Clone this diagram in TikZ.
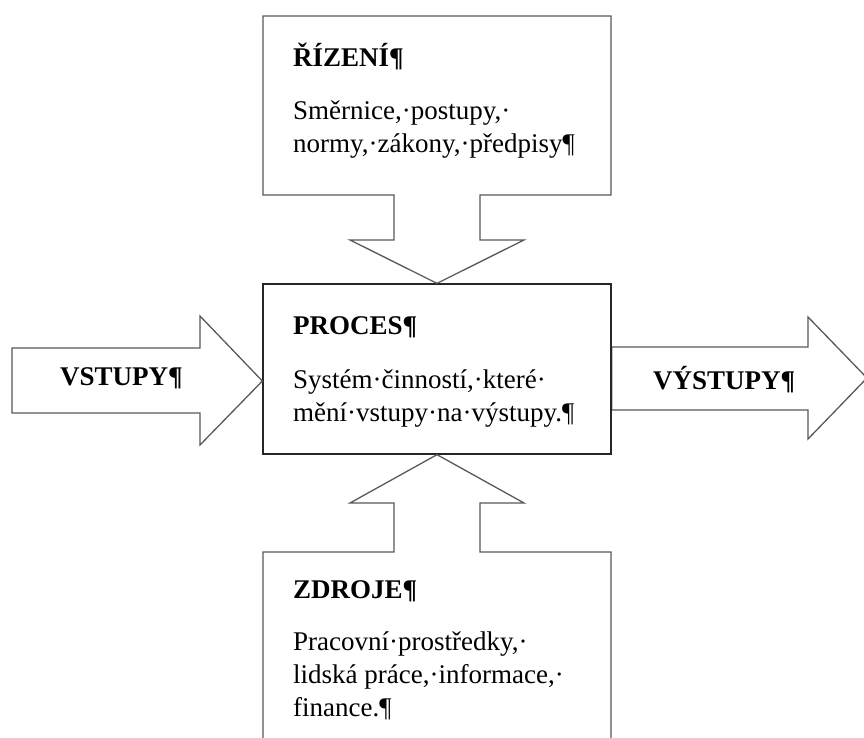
\documentclass[tikz,border=0pt]{standalone}
\usepackage{fontspec}
\setmainfont{Liberation Serif}
% stack of lines whose baseline is the baseline of the first line
\newcommand{\linestack}[1]{\vtop{\baselineskip=33pt\lineskiplimit=-20pt\halign{##\hfil\cr#1\crcr}}}
\begin{document}
\begin{tikzpicture}[x=1pt,y=-1pt,
  outline/.style={draw=black!65, line width=1.3pt, line join=miter, fill=white},
  headtext/.style={font=\bfseries\fontsize{27}{33}\selectfont, anchor=base west, inner sep=0pt},
  bodytext/.style={font=\fontsize{27}{33}\selectfont, anchor=base west, inner sep=0pt},
]
\useasboundingbox (0,0) rectangle (864,738);
\fill[white] (0,0) rectangle (864,738);
\clip (0,0) rectangle (864,738);

% central process box
\node[draw=black!85, line width=1.3pt, minimum width=348pt, minimum height=170pt, inner sep=0pt] (proc) at (437,369) {};

% control callout (box with arrow pointing down onto the process)
\draw[outline] (proc.north) -- (350,240) -- (394,240) -- (394,195) -- (263,195)
  -- (263,16) -- (611,16) -- (611,195) -- (480,195) -- (480,240) -- (524,240) -- cycle;

% resources callout (box with arrow pointing up onto the process)
\draw[outline] (proc.south) -- (524,503) -- (480,503) -- (480,552) -- (611,552)
  -- (611,750) -- (263,750) -- (263,552) -- (394,552) -- (394,503) -- (350,503) -- cycle;

% input block arrow
\draw[outline] (12,348) -- (200,348) -- (200,316) -- (proc.west |- 0,381)
  -- (200,445) -- (200,413) -- (12,413) -- cycle;

% output block arrow
\draw[outline] (proc.east |- 0,347) -- (808,347) -- (808,317) -- (867,378)
  -- (808,439) -- (808,410) -- (proc.east |- 0,410) -- cycle;
\draw[draw=black!85, line width=1.3pt] (proc.north east) -- (proc.south east);

% texts
\node[headtext] (rizh) at (293,66.7) {ŘÍZENÍ¶};
\node[bodytext] (rizb) at (293,120) {\linestack{Směrnice,·postupy,·\cr normy,·zákony,·předpisy¶}};

\node[headtext] (proch) at (293,334) {PROCES¶};
\node[bodytext] (procb) at (293,388) {\linestack{Systém·činností,·které·\cr mění·vstupy·na·výstupy.¶}};

\node[headtext] (zdrh) at (293,598) {ZDROJE¶};
\node[bodytext] (zdrb) at (293,650) {\linestack{Pracovní·prostředky,·\cr lidská práce,·informace,·\cr finance.¶}};

\node[headtext] (vst) at (60,385) {VSTUPY¶};
\node[headtext] (vyst) at (653,389) {VÝSTUPY¶};
\end{tikzpicture}
\end{document}
